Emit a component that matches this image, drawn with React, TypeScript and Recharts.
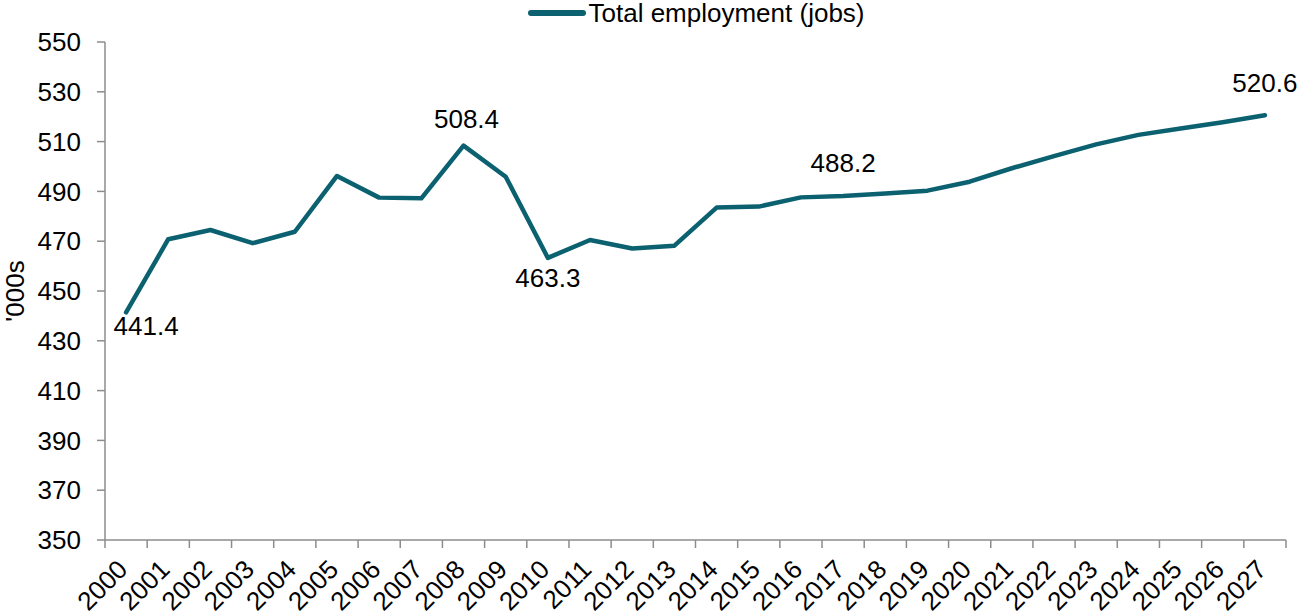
import { LineChart, Line, XAxis, YAxis, Legend } from "recharts";

const years = [
  "2000", "2001", "2002", "2003", "2004", "2005", "2006", "2007", "2008", "2009",
  "2010", "2011", "2012", "2013", "2014", "2015", "2016", "2017", "2018", "2019",
  "2020", "2021", "2022", "2023", "2024", "2025", "2026", "2027",
];
const employment = [
  441.4, 470.8, 474.5, 469.2, 473.8, 496.2, 487.5, 487.2, 508.4, 495.9,
  463.3, 470.5, 467.1, 468.2, 483.5, 483.9, 487.6, 488.2, 489.2, 490.3,
  493.9, 499.3, 504.2, 508.9, 512.7, 515.3, 517.8, 520.6,
];
const labelledYears = ["2000", "2008", "2010", "2017", "2027"];
const yTicks = [350, 370, 390, 410, 430, 450, 470, 490, 510, 530, 550];

const seriesName = "Total employment (jobs)";
const lineColor = "#0b6170";
const axisColor = "#8c8c8c";
const font = "'Liberation Sans', Arial, sans-serif";
const fontSize = 26;

// where each shown value sits relative to its point
const labelOffsets: Record<string, [number, number]> = {
  "2000": [20, 14],
  "2008": [3, -27],
  "2010": [0, 20],
  "2017": [0, -33],
  "2027": [0, -32],
};

const data = years.map((year, i) => ({ year, value: employment[i] }));

function ValueLabel(props: any) {
  const { x, y, index, value } = props;
  const year = years[index];
  if (!labelledYears.includes(year)) return null;
  const [dx, dy] = labelOffsets[year];
  return (
    <text
      x={x + dx}
      y={y + dy}
      textAnchor="middle"
      dominantBaseline="central"
      fontSize={fontSize}
      fontFamily={font}
      fill="#000"
    >
      {Number(value).toFixed(1)}
    </text>
  );
}

function YearTick(props: any) {
  const { x, y, payload, index } = props;
  const half = payload?.offset || 21;
  const last = index === years.length - 1;
  return (
    <g>
      <line x1={x - half} y1={y - 8} x2={x - half} y2={y} stroke={axisColor} strokeWidth={1.5} />
      {last ? (
        <line x1={x + half} y1={y - 8} x2={x + half} y2={y} stroke={axisColor} strokeWidth={1.5} />
      ) : null}
      <text
        x={x + 3}
        y={y + 23}
        textAnchor="end"
        transform={`rotate(-45, ${x + 3}, ${y + 23})`}
        fontSize={fontSize}
        fontFamily={font}
        fill="#000"
      >
        {payload.value}
      </text>
    </g>
  );
}

function LegendContent() {
  return (
    <div
      style={{
        display: "flex",
        justifyContent: "center",
        alignItems: "center",
        height: 26,
        lineHeight: "26px",
        fontSize,
        fontFamily: font,
        color: "#000",
      }}
    >
      <svg width={60} height={12} style={{ marginRight: 2 }}>
        <line x1={4} y1={6} x2={56} y2={6} stroke={lineColor} strokeWidth={6} strokeLinecap="round" />
      </svg>
      <span>{seriesName}</span>
    </div>
  );
}

export default function App() {
  return (
    <div style={{ position: "absolute", left: 0, top: 0, background: "#fff" }}>
      <LineChart width={1300} height={616} data={data} margin={{ top: 16, right: 14, bottom: 0, left: 0 }}>
        <Legend
          verticalAlign="top"
          content={<LegendContent />}
          wrapperStyle={{ top: 0, left: 105, width: 1181 }}
        />
        <XAxis
          dataKey="year"
          scale="band"
          height={76}
          interval={0}
          tickLine={false}
          stroke={axisColor}
          strokeWidth={1.5}
          tick={<YearTick />}
        />
        <YAxis
          width={105}
          domain={[350, 550]}
          ticks={yTicks}
          interval={0}
          tickSize={8}
          tickMargin={16}
          stroke={axisColor}
          strokeWidth={1.5}
          tick={{ fill: "#000", fontSize, fontFamily: font }}
          label={(p: any) => {
            const vb = p.viewBox || { y: 42, height: 498 };
            const cy = vb.y + vb.height / 2;
            return (
              <text
                x={15}
                y={cy}
                transform={`rotate(-90, 15, ${cy})`}
                textAnchor="middle"
                dominantBaseline="central"
                fontSize={fontSize}
                fontFamily={font}
                fill="#000"
              >
                '000s
              </text>
            );
          }}
        />
        <Line
          type="linear"
          dataKey="value"
          name={seriesName}
          stroke={lineColor}
          strokeWidth={4.5}
          strokeLinecap="round"
          strokeLinejoin="round"
          dot={false}
          activeDot={false}
          isAnimationActive={false}
          label={<ValueLabel />}
        />
      </LineChart>
    </div>
  );
}
